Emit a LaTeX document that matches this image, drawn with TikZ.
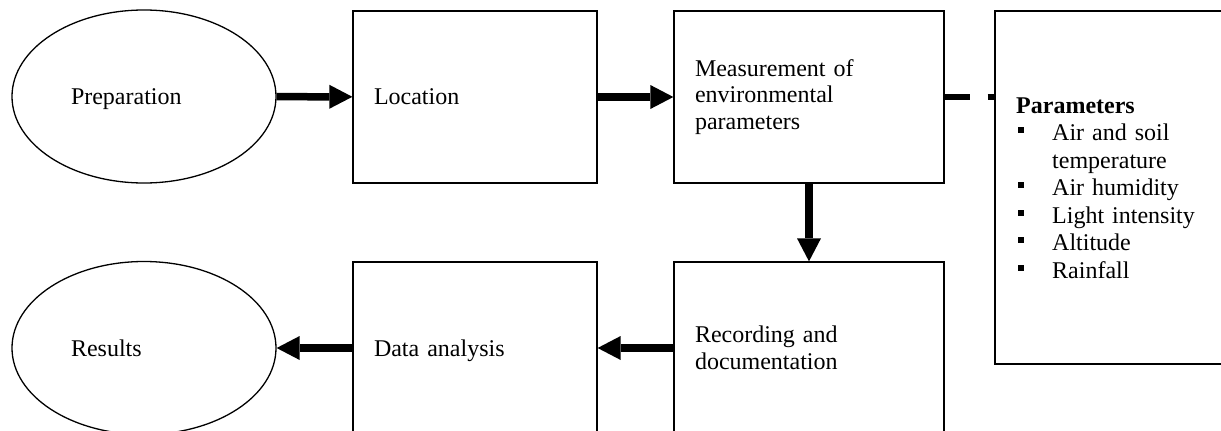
\documentclass[tikz,border=0pt]{standalone}
\usepackage{fontspec}
\setmainfont{Liberation Serif}
\usetikzlibrary{shapes.geometric,arrows.meta}
\newcommand{\sqbullet}{\makebox[36pt][l]{\hspace{2pt}\raisebox{7.5pt}{\rule{6pt}{6pt}}}}
\begin{document}
\begin{tikzpicture}[x=1pt,y=-1pt,
  font=\fontsize{24}{26.5}\selectfont,
  stepbox/.style={draw, line width=1.3pt, rectangle, minimum height=172pt,
    inner xsep=21pt, inner ysep=0pt, text width=#1, align=left},
  endnode/.style={draw, ellipse, line width=1.3pt, minimum width=264pt,
    minimum height=173pt, text width=146pt, align=left, inner sep=0pt},
  oneline/.style={text depth=0pt},
  flow/.style={line width=7.5pt, -{Triangle[length=23pt,width=24pt,line width=0pt]}},
  dashline/.style={line width=5.5pt, dash pattern=on 25pt off 18pt},
  panel/.style={draw, line width=1.3pt, rectangle, inner sep=0pt}
]
\clip (0,0) rectangle (1221,431);
\useasboundingbox (0,0) rectangle (1221,431);

% top row
\node[endnode, oneline] (prep) at (144,96.5) {Preparation};
\node[stepbox=202pt] (loc) at (475,97) {Location};
\node[stepbox=228pt] (meas) at (809,97) {Measurement of\\environmental\\parameters};

% bottom row
\node[endnode] (res) at (144,348) {Results};
\node[stepbox=202pt, oneline] (data) at (475,348) {Data analysis};
\node[stepbox=228pt] (rec) at (809,348) {Recording and\\documentation};

% parameter panel
\node[panel, minimum width=240pt, minimum height=353pt] (params) at (1115,187.5) {};
\node[anchor=base west, inner sep=0pt, text width=200pt, align=left,
      font=\fontsize{24}{27.5}\selectfont] (plist) at (1016,113)
  {\textbf{Parameters}\\
   \sqbullet Air and soil\\
   \hspace*{36pt}temperature\\
   \sqbullet Air humidity\\
   \sqbullet Light intensity\\
   \sqbullet Altitude\\
   \sqbullet Rainfall};

% connectors
\draw[flow] (prep) -- (loc);
\draw[flow] (loc) -- (meas);
\draw[flow] (meas) -- (rec);
\draw[flow] (rec) -- (data);
\draw[flow] (data) -- (res);
\draw[dashline] (meas.east) -- (meas.east -| params.west);
\end{tikzpicture}
\end{document}
